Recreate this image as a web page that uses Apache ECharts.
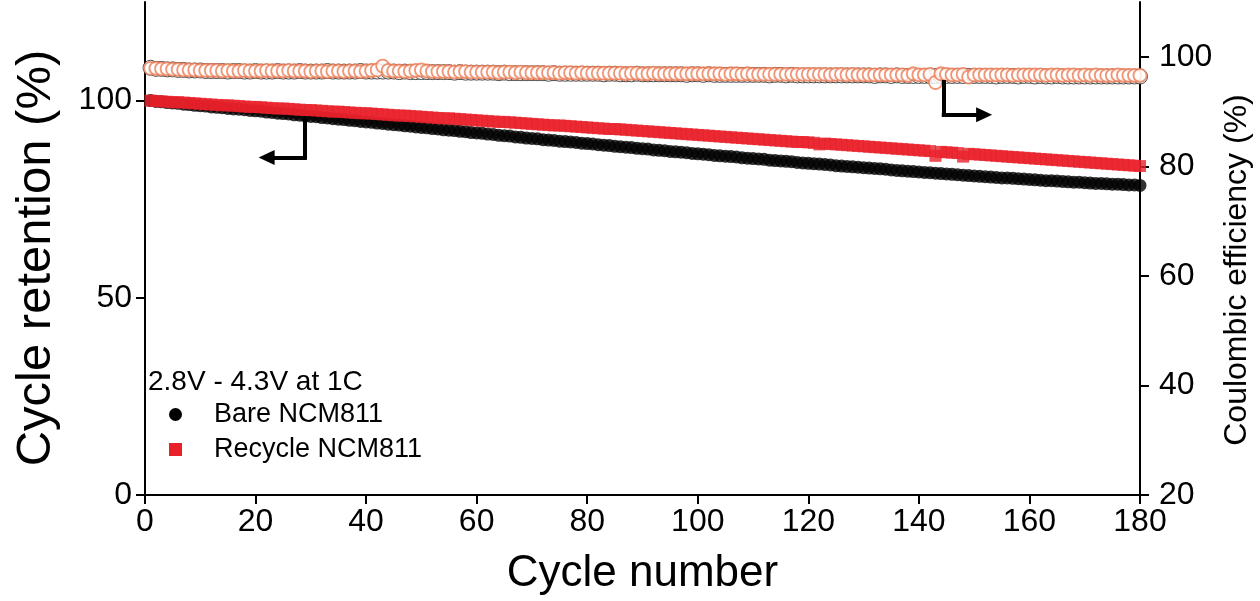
<!DOCTYPE html>
<html>
<head>
<meta charset="utf-8">
<script src="https://cdn.jsdelivr.net/npm/echarts@6/dist/echarts.min.js"></script>
<style>
html,body{margin:0;padding:0;background:#fff;}
#c{width:1260px;height:601px;}
</style>
</head>
<body>
<div id="c"></div>
<script>
// ---- Data ----
const xTicks = [0, 20, 40, 60, 80, 100, 120, 140, 160, 180];
const leftTicks = [0, 50, 100];
const rightTicks = [20, 40, 60, 80, 100];
const seriesNames = ['Bare NCM811', 'Recycle NCM811'];
const conditionText = '2.8V - 4.3V at 1C';

// Capacity retention (%) of bare NCM811, cycles 1..180
const bareRetention = [
100.0,99.8,99.7,99.5,99.4,99.3,99.1,99.0,98.8,98.7,
98.6,98.4,98.3,98.2,98.0,97.9,97.8,97.7,97.5,97.4,
97.3,97.1,97.0,96.8,96.7,96.6,96.4,96.3,96.1,96.0,
95.9,95.7,95.6,95.4,95.3,95.2,95.0,94.9,94.7,94.6,
94.5,94.3,94.2,94.0,93.9,93.8,93.6,93.5,93.3,93.2,
93.1,92.9,92.8,92.6,92.5,92.4,92.2,92.1,91.9,91.8,
91.7,91.5,91.4,91.2,91.1,91.0,90.8,90.7,90.5,90.4,
90.3,90.1,90.0,89.9,89.7,89.6,89.5,89.4,89.2,89.1,
89.0,88.8,88.7,88.6,88.4,88.3,88.2,88.1,87.9,87.8,
87.7,87.5,87.4,87.3,87.1,87.0,86.9,86.8,86.6,86.5,
86.4,86.3,86.1,86.0,85.9,85.8,85.7,85.5,85.4,85.3,
85.2,85.1,84.9,84.8,84.7,84.6,84.5,84.3,84.2,84.1,
84.0,83.9,83.8,83.7,83.5,83.4,83.3,83.2,83.1,83.0,
82.9,82.8,82.7,82.6,82.4,82.3,82.2,82.1,82.0,81.9,
81.8,81.7,81.6,81.5,81.4,81.3,81.2,81.1,81.0,80.9,
80.8,80.7,80.6,80.5,80.4,80.4,80.3,80.2,80.1,80.0,
79.9,79.8,79.7,79.7,79.6,79.5,79.4,79.3,79.3,79.2,
79.1,79.0,79.0,78.9,78.8,78.8,78.7,78.6,78.6,78.5
];

// Capacity retention (%) of recycled NCM811, cycles 1..180
const recycleRetention = [
100.0,99.9,99.8,99.7,99.6,99.6,99.5,99.4,99.3,99.2,
99.1,99.0,98.9,98.8,98.8,98.7,98.6,98.5,98.4,98.4,
98.3,98.2,98.1,98.0,98.0,97.9,97.8,97.7,97.6,97.6,
97.5,97.4,97.3,97.2,97.2,97.1,97.0,96.9,96.8,96.8,
96.7,96.6,96.5,96.4,96.3,96.2,96.2,96.1,96.0,95.9,
95.8,95.7,95.6,95.5,95.5,95.4,95.3,95.2,95.1,95.0,
94.9,94.8,94.7,94.6,94.6,94.5,94.4,94.3,94.2,94.1,
94.0,93.9,93.8,93.7,93.7,93.6,93.5,93.4,93.3,93.2,
93.1,93.0,92.9,92.8,92.8,92.7,92.6,92.5,92.4,92.3,
92.2,92.1,92.0,91.9,91.8,91.7,91.6,91.5,91.4,91.3,
91.2,91.1,91.0,90.9,90.8,90.7,90.6,90.5,90.4,90.3,
90.2,90.1,90.0,89.9,89.8,89.7,89.6,89.5,89.5,89.4,
89.3,88.9,89.1,89.0,88.9,88.8,88.7,88.6,88.5,88.4,
88.3,88.2,88.1,88.0,87.9,87.8,87.7,87.6,87.5,87.4,
87.3,87.2,86.0,87.0,86.9,86.8,86.7,85.8,86.5,86.4,
86.3,86.2,86.1,86.0,85.9,85.8,85.7,85.6,85.5,85.4,
85.3,85.2,85.1,85.0,84.9,84.8,84.7,84.6,84.5,84.4,
84.3,84.2,84.1,84.0,83.9,83.8,83.7,83.6,83.5,83.4
];

// Coulombic efficiency (%) of recycled NCM811 (orange open circles)
const recycleCE = [
97.9,97.9,97.8,97.8,97.7,97.7,97.6,97.6,97.6,97.5,
97.5,97.5,97.5,97.4,97.5,97.4,97.4,97.5,97.4,97.4,
97.4,97.5,97.4,97.4,97.4,97.5,97.4,97.4,97.4,97.3,
97.4,97.4,97.3,97.4,97.4,97.3,97.4,97.4,97.3,97.4,
97.5,97.6,98.3,97.5,97.4,97.4,97.3,97.4,97.5,97.6,
97.4,97.3,97.3,97.3,97.3,97.2,97.3,97.3,97.2,97.2,
97.2,97.2,97.2,97.1,97.2,97.2,97.1,97.2,97.1,97.1,
97.1,97.1,97.1,97.1,97.0,97.1,97.1,97.0,97.1,97.0,
97.0,97.0,97.0,97.0,97.0,97.0,96.9,97.0,97.0,96.9,
96.9,97.0,96.9,96.9,96.9,96.9,96.9,96.9,96.9,96.9,
96.9,96.9,96.9,96.9,96.8,96.9,96.9,96.8,96.9,96.8,
96.8,96.8,96.8,96.8,96.8,96.8,96.8,96.8,96.8,96.8,
96.8,96.8,96.8,96.7,96.8,96.8,96.7,96.8,96.7,96.7,
96.7,96.7,96.7,96.7,96.7,96.7,96.7,96.6,96.9,96.7,
96.7,96.8,95.3,96.9,96.8,96.7,96.7,96.8,96.3,96.7,
96.7,96.7,96.7,96.7,96.7,96.7,96.6,96.7,96.7,96.7,
96.7,96.7,96.6,96.7,96.7,96.6,96.7,96.7,96.6,96.7,
96.6,96.7,96.6,96.6,96.6,96.7,96.6,96.6,96.6,96.6
];

// Coulombic efficiency (%) of bare NCM811 (black, mostly hidden behind)
const bareCE = [
98.0,97.8,97.8,97.7,97.7,97.6,97.6,97.5,97.5,97.5,
97.4,97.4,97.4,97.4,97.3,97.4,97.4,97.3,97.3,97.4,
97.3,97.3,97.3,97.4,97.3,97.3,97.3,97.4,97.3,97.3,
97.3,97.3,97.4,97.3,97.3,97.3,97.3,97.3,97.4,97.3,
97.3,97.3,97.3,97.3,97.3,97.2,97.3,97.2,97.2,97.2,
97.2,97.2,97.2,97.2,97.2,97.1,97.2,97.1,97.1,97.1,
97.1,97.1,97.1,97.0,97.1,97.0,97.0,97.0,97.0,97.0,
97.0,97.0,96.9,97.0,96.9,96.9,96.9,96.9,96.9,96.9,
96.9,96.9,96.8,96.9,96.9,96.8,96.8,96.8,96.9,96.8,
96.8,96.8,96.8,96.8,96.8,96.8,96.8,96.7,96.8,96.8,
96.7,96.8,96.7,96.7,96.7,96.7,96.7,96.7,96.7,96.7,
96.7,96.7,96.6,96.7,96.7,96.6,96.7,96.6,96.6,96.6,
96.6,96.6,96.6,96.6,96.6,96.6,96.6,96.6,96.6,96.6,
96.6,96.5,96.6,96.6,96.5,96.6,96.5,96.5,96.5,96.5,
96.5,96.5,96.5,96.5,96.5,96.5,96.5,96.5,96.5,96.5,
96.5,96.5,96.5,96.4,96.5,96.5,96.5,96.4,96.5,96.5,
96.4,96.5,96.4,96.4,96.5,96.4,96.4,96.4,96.4,96.4,
96.4,96.4,96.4,96.4,96.4,96.4,96.4,96.4,96.4,96.4
];

// Annotation arrows (data coordinates)
const leftArrow = { top: [28.9, 94.9], corner: [28.9, 85.6], tip: [22.0, 85.6] };    // left axis
const rightArrow = { top: [144.5, 95.4], corner: [144.5, 89.4], tip: [151.8, 89.4] }; // right axis

// ---- Build chart ----
const pairs = (arr) => arr.map((v, i) => [i + 1, v]);
const FONT = '"Liberation Sans", Arial, Helvetica, sans-serif';
const RED = '#e8202a';
const ORANGE = '#ec7a52';

function arrowMarkLine(a) {
  return {
    silent: true,
    animation: false,
    symbol: ['none', 'none'],
    label: { show: false },
    emphasis: { disabled: true },
    lineStyle: { color: '#000', width: 4, type: 'solid', cap: 'square', opacity: 1 },
    data: [
      [{ coord: a.top, symbol: 'none' }, { coord: a.corner, symbol: 'none' }],
      [{ coord: a.corner, symbol: 'none' }, { coord: a.tip, symbol: 'triangle', symbolSize: [15, 16] }]
    ]
  };
}

const chart = echarts.init(document.getElementById('c'), null, { renderer: 'canvas' });
const axisLineStyle = { color: '#000', width: 2 };

chart.setOption({
  animation: false,
  backgroundColor: '#fff',
  textStyle: { fontFamily: FONT, color: '#000' },
  title: {
    text: conditionText,
    left: 148, top: 368, padding: 0,
    textStyle: { fontFamily: FONT, fontSize: 28, fontWeight: 'normal', color: '#000' }
  },
  legend: {
    orient: 'vertical',
    left: 169, top: 401,
    itemWidth: 13, itemHeight: 13, itemGap: 8,
    padding: 0,
    selectedMode: false,
    textStyle: { fontFamily: FONT, fontSize: 27, color: '#000', padding: [0, 0, 0, 27] },
    data: [
      { name: seriesNames[0], icon: 'circle', itemStyle: { color: '#000', opacity: 1 } },
      { name: seriesNames[1], icon: 'path://M0,0L10,0L10,10L0,10Z', itemStyle: { color: RED, opacity: 1 } }
    ]
  },
  grid: { left: 145, right: 120, top: 2, bottom: 105, containLabel: false },
  xAxis: {
    type: 'value', min: 0, max: 180, interval: 20,
    name: 'Cycle number', nameLocation: 'middle', nameGap: 57,
    nameTextStyle: { fontFamily: FONT, fontSize: 44, color: '#000' },
    axisLine: { show: true, onZero: false, lineStyle: axisLineStyle },
    axisTick: { show: true, inside: false, length: 9, lineStyle: { color: '#000', width: 2 } },
    axisLabel: { fontFamily: FONT, fontSize: 32, color: '#000', margin: 11, customValues: xTicks },
    splitLine: { show: false }
  },
  yAxis: [
    {
      type: 'value', min: 0, max: 125, position: 'left',
      axisLine: { show: true, onZero: false, lineStyle: axisLineStyle },
      axisTick: { show: true, inside: false, length: 9, lineStyle: { color: '#000', width: 2 }, customValues: leftTicks },
      axisLabel: { fontFamily: FONT, fontSize: 32, color: '#000', margin: 13, customValues: leftTicks },
      splitLine: { show: false }
    },
    {
      type: 'value', min: 20, max: 110, position: 'right',
      axisLine: { show: true, onZero: false, lineStyle: axisLineStyle },
      axisTick: { show: true, inside: false, length: 9, lineStyle: { color: '#000', width: 2 }, customValues: rightTicks },
      axisLabel: { fontFamily: FONT, fontSize: 32, color: '#000', margin: 19, customValues: rightTicks },
      splitLine: { show: false }
    }
  ],
  graphic: [
    { type: 'text', x: 36, y: 258, rotation: Math.PI / 2,
      style: { text: 'Cycle retention (%)', font: '49px ' + FONT, fill: '#000', align: 'center', verticalAlign: 'middle' } },
    { type: 'text', x: 1237, y: 270, rotation: Math.PI / 2,
      style: { text: 'Coulombic efficiency (%)', font: '32px ' + FONT, fill: '#000', align: 'center', verticalAlign: 'middle' } }
  ],
  series: [
    {
      name: 'Bare CE', type: 'scatter', yAxisIndex: 1, z: 1,
      symbol: 'circle', symbolSize: 15,
      itemStyle: { color: '#fff', borderColor: '#222', borderWidth: 1 },
      data: pairs(bareCE), silent: true
    },
    {
      name: 'Recycle CE', type: 'scatter', yAxisIndex: 1, z: 2,
      symbol: 'circle', symbolSize: 13,
      itemStyle: { color: '#fff', borderColor: ORANGE, borderWidth: 1.8 },
      data: pairs(recycleCE), silent: true,
      markLine: arrowMarkLine(rightArrow)
    },
    {
      name: seriesNames[0], type: 'scatter', yAxisIndex: 0, z: 3,
      symbol: 'circle', symbolSize: 13,
      itemStyle: { color: '#000' },
      data: pairs(bareRetention), silent: true,
      markLine: arrowMarkLine(leftArrow)
    },
    {
      name: seriesNames[1], type: 'scatter', yAxisIndex: 0, z: 4,
      symbol: 'rect', symbolSize: 12,
      itemStyle: { color: RED },
      data: pairs(recycleRetention), silent: true
    }
  ]
});
</script>
</body>
</html>
